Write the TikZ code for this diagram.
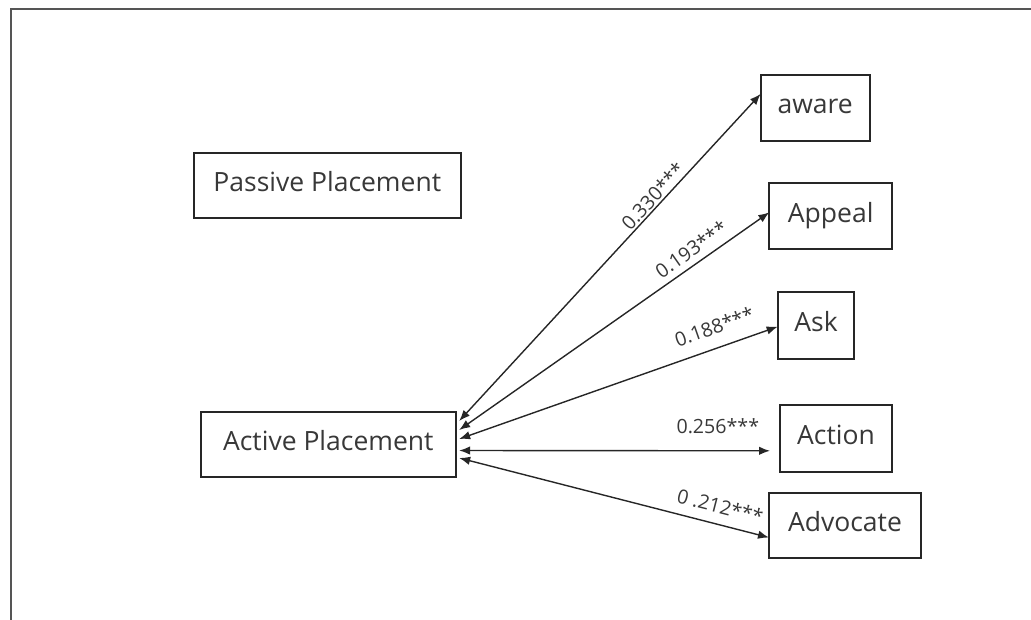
\documentclass[tikz,border=0pt]{standalone}
\usepackage{fontspec}
\setmainfont{Open Sans}
\usetikzlibrary{arrows.meta}
\definecolor{ink}{HTML}{262626}
\definecolor{txt}{HTML}{383838}
\definecolor{rule}{HTML}{555555}
\begin{document}
\begin{tikzpicture}[x=1pt,y=-1pt,
  box/.style={draw=ink,line width=1.8pt,inner sep=0pt,outer sep=0pt,
    text height=19pt,text depth=7pt,text=txt,
    font=\fontsize{26.5}{30}\selectfont},
  link/.style={draw=ink,line width=1.4pt,
    {Latex[length=11pt,width=8.5pt]}-{Latex[length=11pt,width=8.5pt]}},
  coef/.style={sloped,anchor=south,inner sep=0pt,text=txt,
    font=\fontsize{19.6}{22}\selectfont},
  frameline/.style={draw=rule,line width=2pt}]
\useasboundingbox (0,0) rectangle (1031,619);
% open frame: left and top edges only
\draw[frameline] (11,630) -- (11,8.5) -- (1045,8.5);

% constructs
\node[box,minimum width=266.7pt,minimum height=65.3pt] (passive) at (327.3,185.3) {Passive Placement};
\node[box,minimum width=254.7pt,minimum height=65pt]   (active)  at (328.3,444.5) {Active Placement};

% outcomes
\node[box,minimum width=109pt,  minimum height=65.7pt] (aware)    at (815.2,107.9) {aware};
\node[box,minimum width=122.7pt,minimum height=66pt]   (appeal)   at (830.7,216.3) {Appeal};
\node[box,minimum width=76.7pt, minimum height=67.3pt] (ask)      at (816,325.7)   {Ask};
\node[box,minimum width=112pt,  minimum height=67pt]   (action)   at (836,438.8)   {Action};
\node[box,minimum width=152pt,  minimum height=65.7pt] (advocate) at (845,525.5)   {Advocate};

% correlations
\draw[link] ([xshift=3.5pt,yshift=23.5pt]active.east) --
  node[coef,pos=0.667,text depth=2pt]{0.330***} ([yshift=14pt]aware.west);
\draw[link] ([xshift=3.5pt,yshift=14.5pt]active.east) --
  node[coef,pos=0.775,text depth=6.5pt]{0.193***} ([yshift=4pt]appeal.west);
\draw[link] ([xshift=3.5pt,yshift=5.5pt]active.east) --
  node[coef,pos=0.823,text depth=13pt]{0.188***} ([yshift=-1pt]ask.west);
\draw[link] ([xshift=3.5pt,yshift=-6pt]active.east) --
  node[coef,pos=0.832,text depth=16.5pt]{0.256***} ([xshift=-10pt,yshift=-12pt]action.west);
\draw[link] ([xshift=3.5pt,yshift=-13.5pt]active.east) --
  node[coef,pos=0.828,text depth=10pt]{0 .212***} ([yshift=-12pt]advocate.west);
\end{tikzpicture}
\end{document}
